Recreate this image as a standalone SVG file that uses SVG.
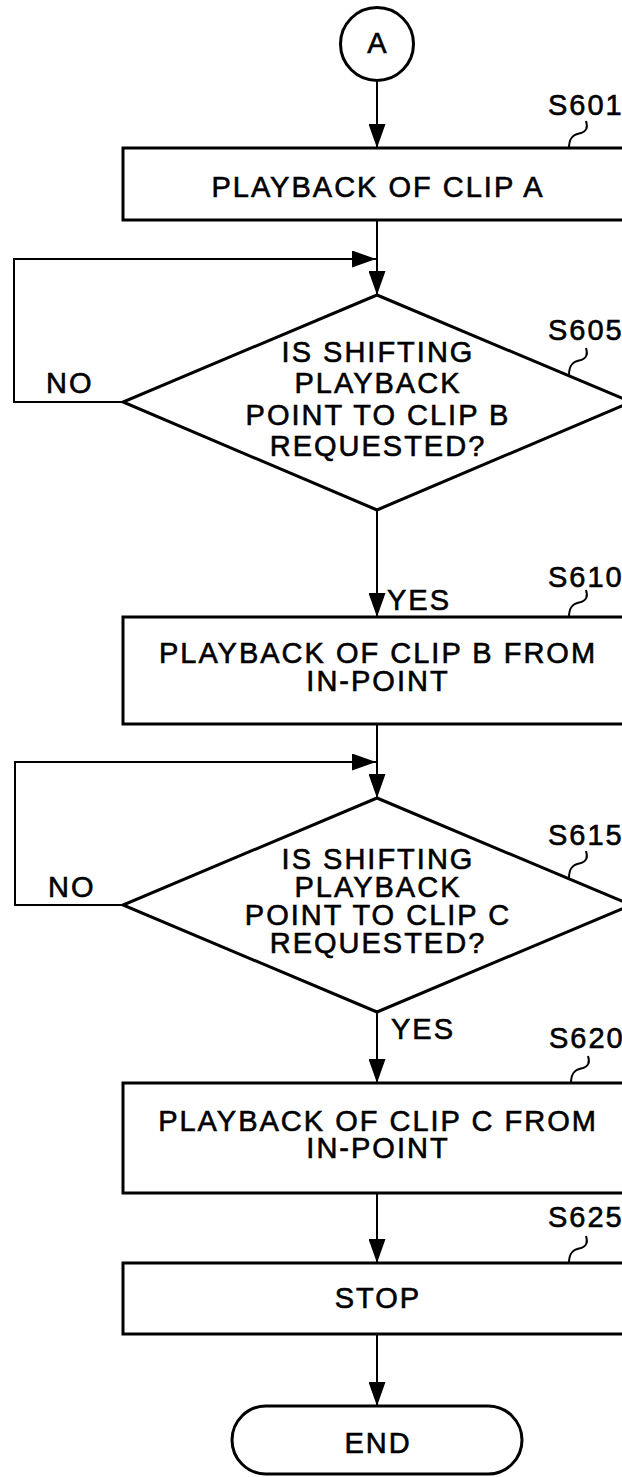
<svg xmlns="http://www.w3.org/2000/svg" xmlns:xlink="http://www.w3.org/1999/xlink" width="622" height="1477" viewBox="0 0 622 1477">
  <style>
    .shape { fill: #fff; stroke: #000; stroke-width: 3; }
    .conn { fill: none; stroke: #000; stroke-width: 2; }
    .lead { fill: none; stroke: #000; stroke-width: 2; }
    text { font-family: "Liberation Sans", Arial, sans-serif; font-size: 29px; fill: #000; stroke: #000; stroke-width: 0.6; letter-spacing: 2px; }
    .c { text-anchor: middle; }
  </style>
  <defs>
    <marker id="arrow" markerUnits="userSpaceOnUse" markerWidth="24" markerHeight="17" refX="24" refY="8.5" orient="auto">
      <path d="M0,0 L24,8.5 L0,17 Z" fill="#000"/>
    </marker>
    <!-- wavy leader tying a step number to its shape -->
    <path id="leader" d="M0,0 C2,6 1,11 -7,12.5 C-14,14 -17,18 -17,27"/>
  </defs>
  <rect width="622" height="1477" fill="#fff"/>

  <!-- connectors -->
  <g id="connectors">
    <line class="conn" x1="377" y1="82" x2="377" y2="148" marker-end="url(#arrow)"/>
    <line class="conn" x1="377" y1="220" x2="377" y2="295" marker-end="url(#arrow)"/>
    <polyline class="conn" points="123,402 14,402 14,259 376,259" marker-end="url(#arrow)"/>
    <line class="conn" x1="377" y1="510" x2="377" y2="617" marker-end="url(#arrow)"/>
    <line class="conn" x1="377" y1="724" x2="377" y2="798" marker-end="url(#arrow)"/>
    <polyline class="conn" points="125,905 15,905 15,762 376,762" marker-end="url(#arrow)"/>
    <line class="conn" x1="377" y1="1012" x2="377" y2="1083" marker-end="url(#arrow)"/>
    <line class="conn" x1="377" y1="1193" x2="377" y2="1263" marker-end="url(#arrow)"/>
    <line class="conn" x1="377" y1="1334" x2="377" y2="1406" marker-end="url(#arrow)"/>
    <text x="46" y="393">NO</text>
    <text x="387" y="610">YES</text>
    <text x="48" y="897">NO</text>
    <text x="391" y="1039">YES</text>
  </g>

  <g id="start-A">
    <circle class="shape" cx="377" cy="44" r="36.5"/>
    <text class="c" x="378" y="53">A</text>
  </g>

  <g id="S601">
    <rect class="shape" x="123" y="148" width="540" height="72"/>
    <text class="c" x="378" y="197">PLAYBACK OF CLIP A</text>
    <text x="548" y="115">S601</text>
    <use xlink:href="#leader" class="lead" x="586" y="121"/>
  </g>

  <g id="S605">
    <polygon class="shape" points="377,295 631,402 377,510 123,402"/>
    <text class="c" x="378" y="362">IS SHIFTING</text>
    <text class="c" x="378" y="393">PLAYBACK</text>
    <text class="c" x="378" y="425">POINT TO CLIP B</text>
    <text class="c" x="378" y="456">REQUESTED?</text>
    <text x="548" y="340">S605</text>
    <use xlink:href="#leader" class="lead" x="586" y="348"/>
  </g>

  <g id="S610">
    <rect class="shape" x="123" y="617" width="540" height="107"/>
    <text class="c" x="378" y="663">PLAYBACK OF CLIP B FROM</text>
    <text class="c" x="378" y="691">IN-POINT</text>
    <text x="548" y="587">S610</text>
    <use xlink:href="#leader" class="lead" x="586" y="590"/>
  </g>

  <g id="S615">
    <polygon class="shape" points="377,798 631,905 377,1012 123,905"/>
    <text class="c" x="378" y="869">IS SHIFTING</text>
    <text class="c" x="378" y="897">PLAYBACK</text>
    <text class="c" x="378" y="925">POINT TO CLIP C</text>
    <text class="c" x="378" y="953">REQUESTED?</text>
    <text x="548" y="845">S615</text>
    <use xlink:href="#leader" class="lead" x="586" y="851"/>
  </g>

  <g id="S620">
    <rect class="shape" x="123" y="1083" width="540" height="110"/>
    <text class="c" x="378" y="1131">PLAYBACK OF CLIP C FROM</text>
    <text class="c" x="378" y="1158">IN-POINT</text>
    <text x="549" y="1048">S620</text>
    <use xlink:href="#leader" class="lead" x="588" y="1056"/>
  </g>

  <g id="S625">
    <rect class="shape" x="123" y="1263" width="540" height="71"/>
    <text class="c" x="378" y="1308">STOP</text>
    <text x="548" y="1227">S625</text>
    <use xlink:href="#leader" class="lead" x="586" y="1236"/>
  </g>

  <g id="end">
    <rect class="shape" x="232" y="1406" width="290" height="68" rx="34" ry="34"/>
    <text class="c" x="378" y="1453">END</text>
  </g>
</svg>
